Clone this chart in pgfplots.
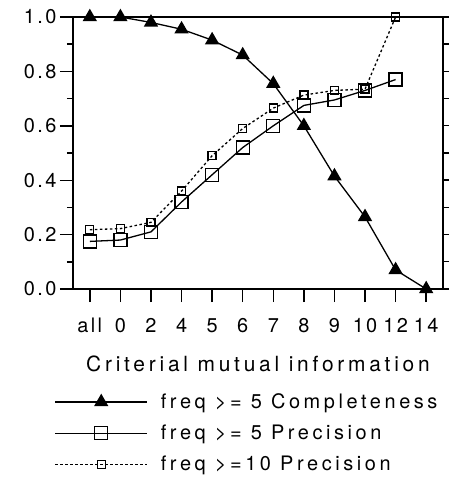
\documentclass[border=0pt]{standalone}
\usepackage{fontspec}
\setmainfont{TeX Gyre Heros}[LetterSpace=12]
\newfontfamily\legfont{TeX Gyre Heros}[LetterSpace=18]
\newfontfamily\labfont{TeX Gyre Heros}[LetterSpace=18]
\usepackage{pgfplots}
\pgfplotsset{compat=1.18}
\begin{document}
\begin{tikzpicture}
\begin{axis}[
  scale only axis, width=370bp, height=272bp,
  xmin=-0.55, xmax=11.55, ymin=0, ymax=1,
  xtick={0,1,2,3,4,5,6,7,8,9,10,11},
  xticklabels={all,0,2,4,5,6,7,8,9,10,12,14},
  ytick={0,0.2,0.4,0.6,0.8,1.0},
  yticklabels={0.0,0.2,0.4,0.6,0.8,1.0},
  minor ytick={0.1,0.3,0.5,0.7,0.9},
  clip=false,
  tick pos=left,
  tick align=outside,
  major tick length=13bp, minor tick length=6bp,
  tick style={draw=black, line width=1.4bp},
  axis line style={line width=2.4bp},
  ticklabel style={font=\fontsize{20}{22}\selectfont},
  xticklabel style={text height=14bp, text depth=0bp, yshift=-13bp},
  xlabel={Criterial mutual information},
  xlabel style={font=\labfont\fontsize{21}{24}\selectfont, at={(axis description cs:0.5,-0.305)}, anchor=base},
  legend cell align=left,
  legend style={draw=none, fill=none, at={(axis description cs:-0.0584,-0.370)}, anchor=north west,
    font=\legfont\fontsize{20}{22}\selectfont, row sep=11bp, column sep=11bp},
  legend image code/.code={\draw[mark repeat=2,mark phase=2,#1] plot coordinates {(0bp,0bp)(46bp,0bp)(92bp,0bp)};},
]
\addplot[black, line width=1.3bp, mark=triangle*, mark size=7bp, mark options={solid}]
  coordinates {(0,1.0)(1,1.0)(2,0.98)(3,0.955)(4,0.915)(5,0.86)(6,0.755)(7,0.60)(8,0.415)(9,0.265)(10,0.07)(11,0.0)};
\addlegendentry{freq >= 5 Completeness}
\addplot[black, line width=1.3bp, mark=square, mark size=6.5bp, mark options={solid, fill=white}]
  coordinates {(0,0.175)(1,0.18)(2,0.21)(3,0.32)(4,0.42)(5,0.52)(6,0.60)(7,0.675)(8,0.695)(9,0.73)(10,0.77)};
\addlegendentry{freq >= 5 Precision}
\addplot[black, line width=1.3bp, dash pattern=on 2.5bp off 2.5bp, mark=square, mark size=4bp, mark options={solid, fill=white}]
  coordinates {(0,0.218)(1,0.222)(2,0.245)(3,0.36)(4,0.49)(5,0.59)(6,0.665)(7,0.713)(8,0.73)(9,0.735)(10,1.0)};
\addlegendentry{freq >=10 Precision}
\end{axis}
\begin{axis}[
  scale only axis, width=370bp, height=272bp,
  xmin=-0.55, xmax=11.55, ymin=0, ymax=1,
  hide x axis,
  axis y line*=right,
  ytick={0,0.2,0.4,0.6,0.8,1.0},
  minor ytick={0.1,0.3,0.5,0.7,0.9},
  yticklabels={},
  tick align=outside,
  major tick length=6bp, minor tick length=6bp,
  tick style={draw=black, line width=1.4bp},
  axis line style={line width=2.4bp, -},
]
\end{axis}
\path (-73bp,-196bp) rectangle (379bp,289bp);
\end{tikzpicture}
\end{document}
